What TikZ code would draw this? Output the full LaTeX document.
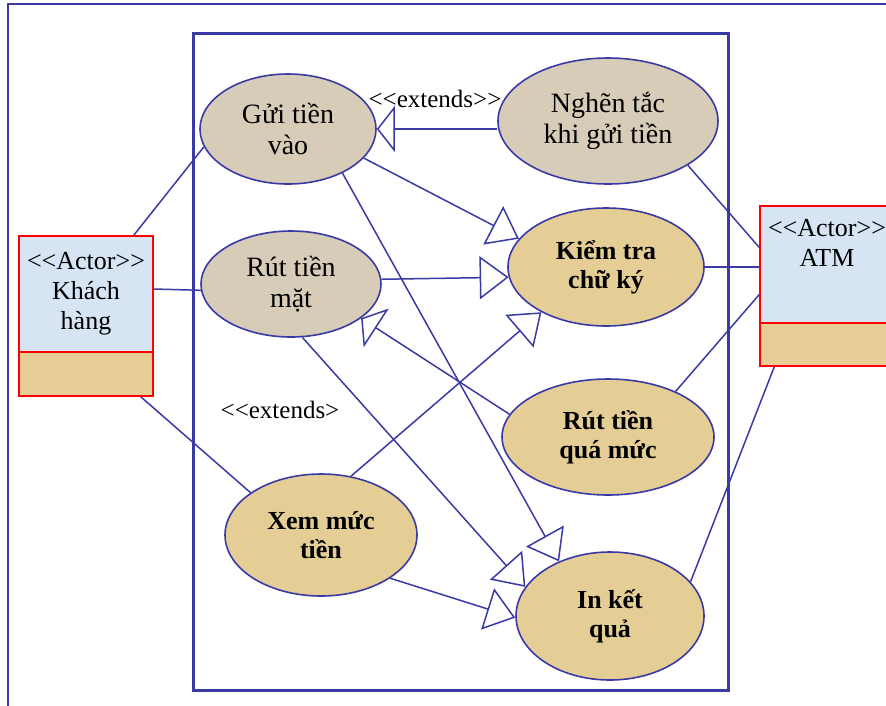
\documentclass[tikz,border=0pt]{standalone}
\usepackage{fontspec}
\setmainfont{Liberation Serif}
\usetikzlibrary{shapes.geometric,arrows.meta,calc}
\definecolor{ln}{RGB}{58,58,165}
\definecolor{ucgrey}{RGB}{214,204,184}
\definecolor{ucgold}{RGB}{229,205,150}
\definecolor{actblue}{RGB}{214,228,244}
\definecolor{acttan}{RGB}{230,206,150}
\newcommand\myll{<\kern0pt<}
\newcommand\mygg{>\kern0pt>}
\begin{document}
\begin{tikzpicture}[x=1pt,y=-1pt,
  uc/.style={ellipse, draw=ln, line width=1.6pt, inner sep=0pt, align=center},
  ucg/.style={uc, fill=ucgrey, font=\fontsize{28}{31}\selectfont},
  ucb/.style={uc, fill=ucgold, font=\fontsize{26}{29}\selectfont\bfseries},
  acttop/.style={rectangle, draw=red, line width=1.4pt, fill=actblue, inner sep=0pt, minimum width=134pt},
  actbot/.style={rectangle, draw=red, line width=1.4pt, fill=acttan, inner sep=0pt, minimum width=134pt, minimum height=44pt},
  assoc/.style={draw=ln, line width=1.5pt},
  gen/.style={assoc, -{Triangle[length=29pt,width=43pt,fill=white]}},
  ext/.style={assoc, -{Triangle[length=18pt,width=46pt,fill=white]}},
  lbl/.style={font=\fontsize{25}{28}\selectfont, inner sep=0pt},
  acttext/.style={font=\fontsize{26}{30}\selectfont, align=center, inner sep=0pt}
]
\useasboundingbox (0,0) rectangle (886,705);
\fill[white] (0,0) rectangle (886,705);
\draw[ln, line width=1.2pt] (8,4) rectangle (920,740);
\node[draw=ln, line width=3pt, minimum width=535pt, minimum height=657pt, inner sep=0pt] (sys) at (460.5,361.5) {};

% use cases
\node[ucg, minimum width=176pt, minimum height=110pt] (g) at (288,129) {Gửi tiền\\vào};
\node[ucg, minimum width=220pt, minimum height=126pt] (n) at (608,121) {Nghẽn tắc\\khi gửi tiền};
\node[ucg, minimum width=180pt, minimum height=106pt] (r) at (291,284) {Rút tiền\\mặt};
\node[ucb, minimum width=196pt, minimum height=118pt] (kt) at (606,267) {Kiểm tra\\chữ ký};
\node[ucb, minimum width=212pt, minimum height=116pt] (rq) at (608,437) {Rút tiền\\quá mức};
\node[ucb, minimum width=192pt, minimum height=122pt] (xm) at (321,535) {Xem mức\\tiền};
\node[ucb, minimum width=188pt, minimum height=128pt] (ik) at (610,616) {In kết\\quả};

% actors
\node[acttop, minimum height=116pt] (k) at (86,294) {};
\node[actbot] (kb) at (86,374) {};
\node[acttext] (kl) at (k.center) {\myll Actor\mygg\\Khách\\hàng};
\node[acttop, minimum height=117pt] (atm) at (827,264.5) {};
\node[actbot, minimum height=43pt] (atmb) at (827,344.5) {};
\node[acttext, anchor=north] (atml) at ($(atm.north)+(0,14)$) {\myll Actor\mygg\\ATM};

% labels
\node[lbl] (e1) at (435,99) {\myll extends\mygg};
\node[lbl] (e2) at (280,410) {\myll extends>};

% connectors
\draw[assoc] ($(k.north east)+(-20,0)$) -- (g.192);
\draw[assoc] ($(k.east)+(0,-5)$) -- (r.184);
\draw[assoc] ($(kb.south east)+(-13,0)$) -- (xm.149);
\draw[ext] (n.west |- g.east) -- (g.east);
\draw[gen] (g.-21) -- (kt.162);
\draw[gen] (g.-39) -- (ik.133);
\draw[gen] (r.3) -- (kt.186.5);
\draw[gen] (r.-78) -- (ik.161);
\draw[ext] (rq.167) -- (r.-26);
\draw[gen] (xm.63) -- (kt.215);
\draw[gen] (xm.-32) -- (ik.181);
\draw[assoc] (n.-29) -- ($(atm.west)+(0,-17)$);
\draw[assoc] (kt.east) -- (atm.west |- kt.east);
\draw[assoc] (rq.34) -- ($(atm.west)+(0,30)$);
\draw[assoc] (ik.23) -- ($(atmb.south west)+(15,0)$);
\end{tikzpicture}
\end{document}
